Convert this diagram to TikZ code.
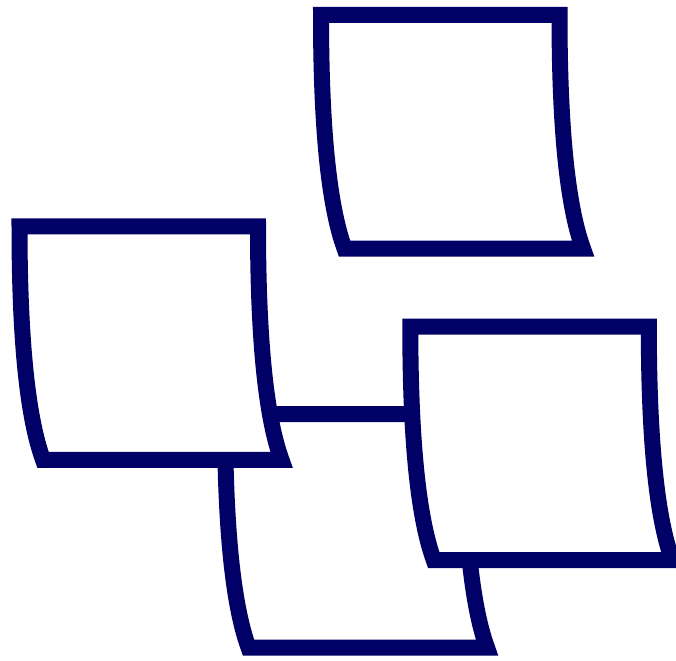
\documentclass[tikz,border=0pt]{standalone}
\definecolor{notenavy}{RGB}{0,0,102}
\tikzset{
  noteline/.style={draw=notenavy, line width=16pt, fill=white, line join=miter},
  stickynote/.pic={
    \path[noteline] (0,0) -- (238.5,0)
      .. controls (238.5,112.7) and (246.3,190.5) .. (262,233.5)
      -- (23.5,233.5)
      .. controls (7.8,190.5) and (0,112.7) .. (0,0) -- cycle;
  }
}
\begin{document}
\begin{tikzpicture}[x=1pt,y=-1pt]
  \useasboundingbox (0,0) rectangle (676,660);
  \pic (noteC) at (225,414) {stickynote};
  \pic (noteB) at (19.5,226.3) {stickynote};
  \pic (noteD) at (410.3,326.7) {stickynote};
  \pic (noteA) at (321,15) {stickynote};
\end{tikzpicture}
\end{document}
